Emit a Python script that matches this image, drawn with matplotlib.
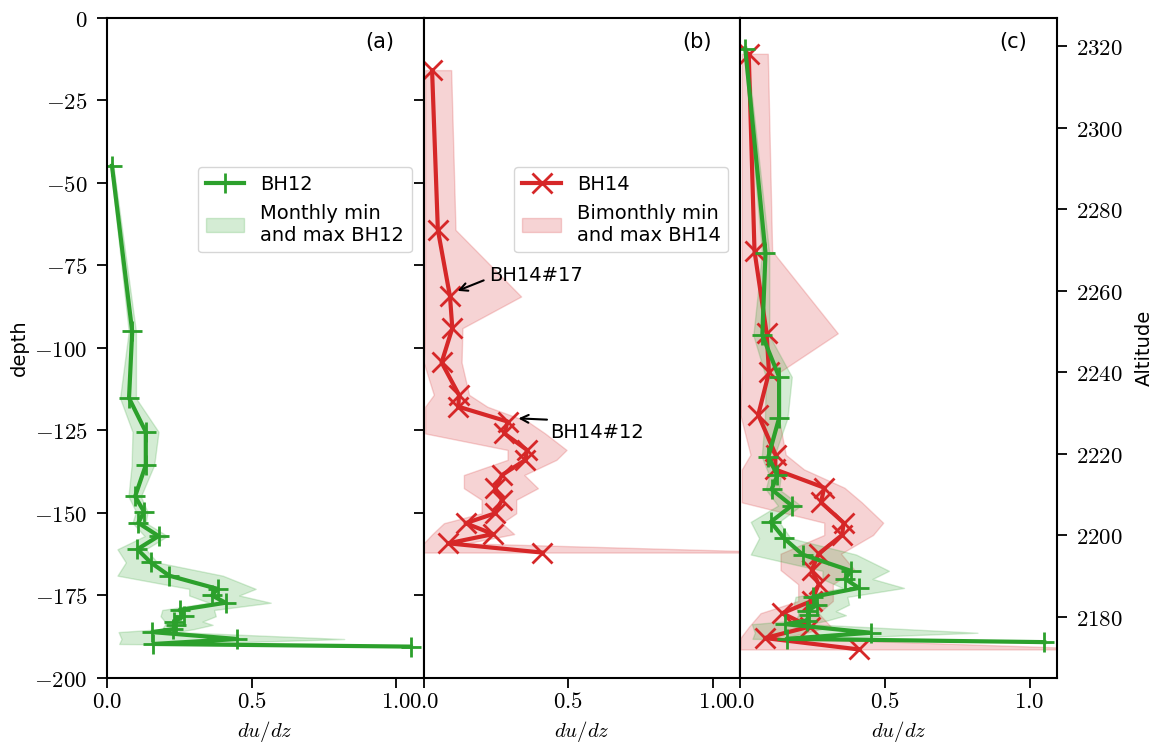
import numpy as np
import matplotlib
matplotlib.use("Agg")
import matplotlib.pyplot as plt
from matplotlib.ticker import FuncFormatter

plt.rcParams['font.family'] = ['DejaVu Sans']
plt.rcParams['mathtext.fontset'] = 'cm'

# BH12 (monthly) profile: depth, du/dz and min/max envelope
bh12_depth = [-44.8, -95, -115.2, -125.4, -135.5, -145, -149.6, -153, -157, -161, -165, -169,
              -173, -175, -177.2, -179.4, -181.3, -182.9, -183.9, -185.2, -186.1, -188.2, -189.7, -190.5]
bh12_dudz = [0.017, 0.087, 0.076, 0.134, 0.134, 0.097, 0.128, 0.108, 0.178, 0.105, 0.151, 0.215,
             0.382, 0.363, 0.41, 0.251, 0.266, 0.232, 0.238, 0.229, 0.156, 0.451, 0.16, 1.051]
bh12_min = [0.012, 0.075, 0.045, 0.088, 0.085, 0.074, 0.1, 0.088, 0.13, 0.036, 0.065, 0.036,
            0.284, 0.284, 0.353, 0.191, 0.185, 0.2, 0.2, 0.19, 0.04, 0.05, 0.042, 1.0]
bh12_max = [0.022, 0.1, 0.1, 0.178, 0.163, 0.117, 0.14, 0.134, 0.209, 0.134, 0.174, 0.40,
            0.514, 0.457, 0.566, 0.37, 0.376, 0.33, 0.365, 0.30, 0.24, 0.82, 0.25, 1.07]

# BH14 (bimonthly) profile
bh14_depth = [-15.8, -64.2, -84.4, -94, -104.4, -114.2, -117.8, -122.3, -125.9, -130.9, -133.9,
              -138.5, -142.5, -146, -150.1, -153.1, -156.4, -159.2, -162]
bh14_dudz = [0.029, 0.049, 0.091, 0.099, 0.062, 0.122, 0.12, 0.29, 0.279, 0.357, 0.352,
             0.271, 0.247, 0.271, 0.247, 0.145, 0.24, 0.085, 0.41]
bh14_min = [0.005, 0.005, 0.005, 0.005, 0.0, 0.035, 0.005, 0.005, 0.005, 0.29, 0.29,
            0.139, 0.139, 0.2, 0.2, 0.07, 0.03, 0.0, 0.0]
bh14_max = [0.095, 0.11, 0.337, 0.134, 0.131, 0.157, 0.22, 0.36, 0.42, 0.494, 0.459,
            0.348, 0.395, 0.32, 0.32, 0.27, 0.313, 0.15, 1.3]

# surface altitude of each borehole (altitude = surface + depth)
bh12_surface = 2364.3
bh14_surface = 2334.0

green = '#2ca02c'
red = '#d62728'
tick_fs = 16.5
text_fs = 14

fig = plt.figure(figsize=(11.61, 7.46), dpi=100)
ax_a = fig.add_subplot(1, 3, 1)
ax_b = fig.add_subplot(1, 3, 2, sharex=ax_a, sharey=ax_a)
ax_c = fig.add_subplot(1, 3, 3, sharex=ax_a)
fig.subplots_adjust(left=0.0922, right=0.9104, top=0.9759, bottom=0.0912, wspace=0)

line_kw = dict(lw=3, ms=15, mew=2)

# (a) BH12
f12 = ax_a.fill_betweenx(bh12_depth, bh12_min, bh12_max, color=green, alpha=0.2,
                         label='Monthly min\nand max BH12')
l12, = ax_a.plot(bh12_dudz, bh12_depth, color=green, marker='+', label='BH12', **line_kw)

# (b) BH14
f14 = ax_b.fill_betweenx(bh14_depth, bh14_min, bh14_max, color=red, alpha=0.2,
                         label='Bimonthly min\nand max BH14')
l14, = ax_b.plot(bh14_dudz, bh14_depth, color=red, marker='x', label='BH14', **line_kw)

# (c) both in altitude
alt12 = np.array(bh12_depth) + bh12_surface
alt14 = np.array(bh14_depth) + bh14_surface
ax_c.fill_betweenx(alt14, bh14_min, bh14_max, color=red, alpha=0.2)
ax_c.fill_betweenx(alt12, bh12_min, bh12_max, color=green, alpha=0.2)
ax_c.plot(bh14_dudz, alt14, color=red, marker='x', **line_kw)
ax_c.plot(bh12_dudz, alt12, color=green, marker='+', **line_kw)

for ax, lab in zip([ax_a, ax_b, ax_c], ['(a)', '(b)', '(c)']):
    ax.set_xlim(0, 1.095)
    ax.set_xticks([0, 0.5, 1.0])
    ax.xaxis.set_major_formatter(FuncFormatter(lambda v, p: '$%.1f$' % v))
    ax.set_xlabel('$du/dz$', fontsize=text_fs + 1)
    ax.tick_params(labelsize=tick_fs, length=7, width=1.3)
    ax.tick_params(axis='x', pad=2)
    ax.tick_params(axis='y', pad=7)
    for s in ax.spines.values():
        s.set_linewidth(1.5)
    ax.text(0.862, 0.963, lab, transform=ax.transAxes, ha='center', va='center', fontsize=15)

ax_a.set_ylim(-200, 0)
ax_a.set_yticks(np.arange(-200, 1, 25))
ax_a.yaxis.set_major_formatter(FuncFormatter(lambda v, p: '$%d$' % v))
ax_a.set_ylabel('depth', fontsize=text_fs)
ax_b.tick_params(axis='y', labelleft=False)

ax_c.yaxis.tick_right()
ax_c.yaxis.set_label_position('right')
ax_c.set_ylim(2165, 2327)
ax_c.set_yticks(np.arange(2180, 2321, 20))
ax_c.yaxis.set_major_formatter(FuncFormatter(lambda v, p: '$%d$' % v))
ax_c.set_ylabel('Altitude', fontsize=text_fs, labelpad=8)

ax_a.legend([l12, f12], [l12.get_label(), f12.get_label()], loc='upper right',
            bbox_to_anchor=(0.962, 0.774), borderaxespad=0, fontsize=text_fs, handlelength=2.0)
ax_b.legend([l14, f14], [l14.get_label(), f14.get_label()], loc='upper right',
            bbox_to_anchor=(0.962, 0.774), borderaxespad=0, fontsize=text_fs, handlelength=2.0)

ax_b.annotate('BH14#17', xy=(0.108, -83.0), xytext=(0.226, -78.0), fontsize=text_fs,
              ha='left', va='center',
              arrowprops=dict(arrowstyle='->', color='black', lw=1.5, relpos=(0, 0.35)))
ax_b.annotate('BH14#12', xy=(0.318, -121.3), xytext=(0.436, -125.5), fontsize=text_fs,
              ha='left', va='center',
              arrowprops=dict(arrowstyle='->', color='black', lw=1.5, relpos=(0, 1.15)))

fig.savefig('out.png', dpi=100)
